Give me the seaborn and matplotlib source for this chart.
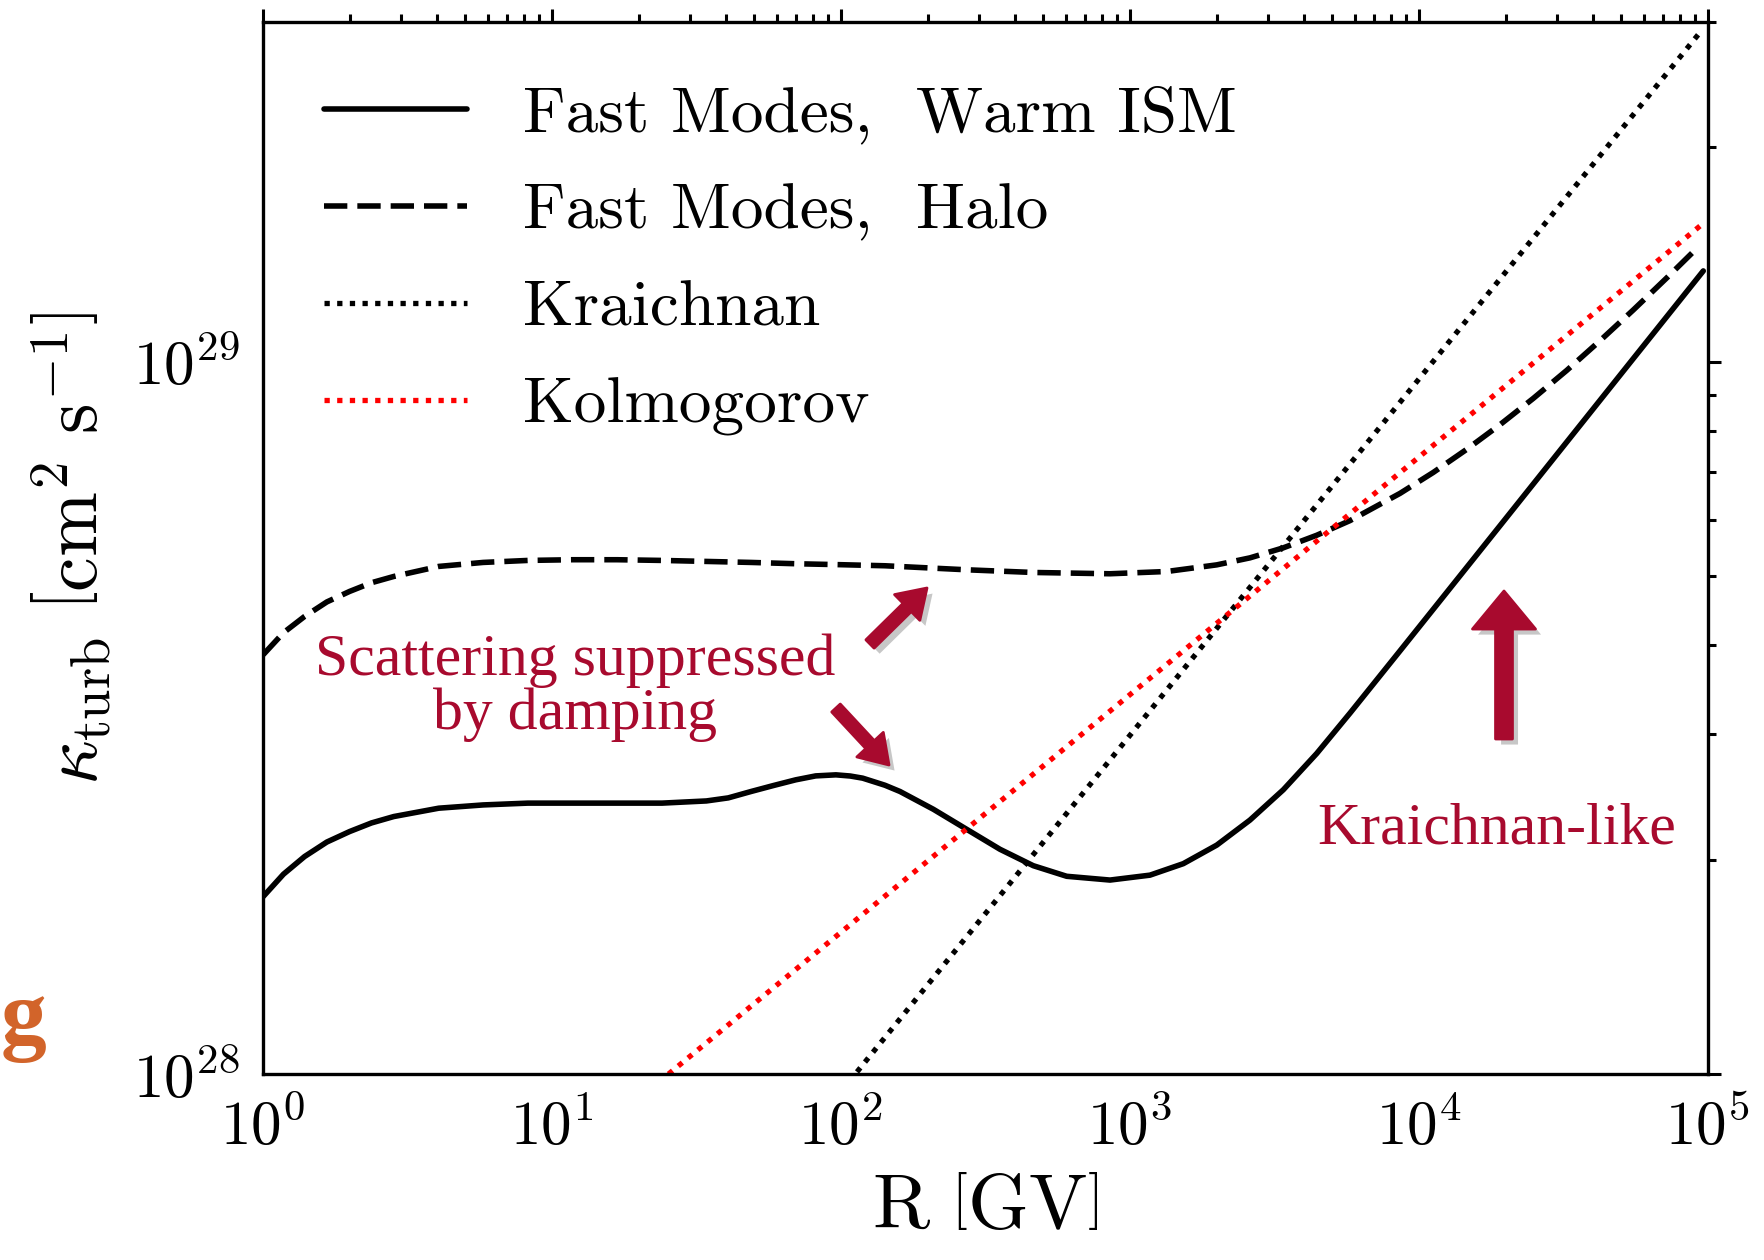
import numpy as np
import pandas as pd
import matplotlib
matplotlib.use("Agg")
import matplotlib.pyplot as plt
import matplotlib.patheffects as pe
from matplotlib.patches import FancyArrowPatch, ArrowStyle
from matplotlib.ticker import LogLocator, NullFormatter
import seaborn as sns

# Rigidity R [GV] and turbulent diffusion coefficient kappa [cm^2 s^-1]
warm_R = [1.0, 1.175, 1.39, 1.66, 1.99, 2.37, 2.83, 4.05, 5.77, 8.24, 11.75, 16.8,
          24.0, 34.2, 40.7, 48.8, 58.2, 69.7, 81.7, 96.0, 107.6, 118.8, 141.9,
          160.0, 208.6, 272.2, 354.9, 462.9, 604.0, 853.1, 1173, 1530, 1997, 2603,
          3395, 4430, 5776, 8606, 11220, 19100, 32500, 55250, 96500]
warm_k = [1.777e28, 1.910e28, 2.022e28, 2.119e28, 2.192e28, 2.254e28, 2.301e28,
          2.364e28, 2.389e28, 2.403e28, 2.403e28, 2.403e28, 2.403e28, 2.420e28,
          2.444e28, 2.495e28, 2.543e28, 2.591e28, 2.624e28, 2.633e28, 2.623e28,
          2.605e28, 2.546e28, 2.495e28, 2.356e28, 2.208e28, 2.070e28, 1.963e28,
          1.897e28, 1.874e28, 1.904e28, 1.976e28, 2.098e28, 2.275e28, 2.509e28,
          2.821e28, 3.214e28, 3.931e28, 4.497e28, 5.891e28, 7.719e28, 10.11e28,
          13.42e28]

halo_R = [1.0, 1.175, 1.39, 1.66, 1.99, 2.37, 2.83, 4.05, 5.77, 8.24, 11.76, 16.8,
          24.0, 34.2, 48.8, 69.7, 99.5, 141.9, 272.2, 462.9, 853.1, 1341, 1997,
          2603, 3395, 4430, 5776, 8606, 11220, 14650, 19100, 24900, 32500, 42370,
          55250, 72120, 91560]
halo_k = [3.883e28, 4.168e28, 4.393e28, 4.604e28, 4.763e28, 4.899e28, 4.999e28,
          5.164e28, 5.231e28, 5.265e28, 5.277e28, 5.277e28, 5.265e28, 5.248e28,
          5.231e28, 5.209e28, 5.193e28, 5.175e28, 5.108e28, 5.064e28, 5.043e28,
          5.080e28, 5.190e28, 5.309e28, 5.484e28, 5.711e28, 5.988e28, 6.539e28,
          6.997e28, 7.540e28, 8.165e28, 8.889e28, 9.730e28, 10.71e28, 11.83e28,
          13.12e28, 14.43e28]

kraichnan_R = [1.0e2, 9.5e4]
kraichnan_k = [0.946e28, 2.916e29]

kolmogorov_R = [2.0e1, 9.5e4]
kolmogorov_k = [0.926e28, 1.557e29]

labels = ["Fast Modes,  Warm ISM",
          "Fast Modes,  Halo",
          "Kraichnan",
          "Kolmogorov"]

ANNOT = "#A80A2E"

sns.set_theme(style="white")
plt.rcParams.update({
    "mathtext.fontset": "cm",
    "font.family": ["cmr10", "DejaVu Serif"],
    "axes.formatter.use_mathtext": True,
    "axes.unicode_minus": False,
    "axes.linewidth": 1.2,
    "axes.edgecolor": "black",
    "axes.labelcolor": "black",
    "text.color": "black",
    "xtick.color": "black",
    "ytick.color": "black",
})

W, H, DPI = 1764, 1260, 200
fig = plt.figure(figsize=(W / DPI, H / DPI), dpi=DPI)
ax = fig.add_axes([263.25 / W, 1 - 1074.4 / H, (1707.75 - 263.25) / W, (1074.4 - 22) / H])

frames = [
    pd.DataFrame({"R": warm_R, "k": warm_k}),
    pd.DataFrame({"R": halo_R, "k": halo_k}),
    pd.DataFrame({"R": kraichnan_R, "k": kraichnan_k}),
    pd.DataFrame({"R": kolmogorov_R, "k": kolmogorov_k}),
]
styles = [
    dict(color="black", linewidth=2.0, linestyle="-"),
    dict(color="black", linewidth=2.0, dashes=(4.2, 1.8)),
    dict(color="black", linewidth=1.9, dashes=(1.0, 1.4)),
    dict(color="red", linewidth=1.9, dashes=(1.0, 1.4)),
]
for df, lab, st in zip(frames, labels, styles):
    sns.lineplot(data=df, x="R", y="k", ax=ax, label=lab, estimator=None,
                 sort=True, solid_joinstyle="round", **st)

ax.set_xscale("log")
ax.set_yscale("log")
ax.set_xlim(1, 1e5)
ax.set_ylim(1e28, 3e29)

ax.xaxis.set_major_locator(LogLocator(base=10, numticks=10))
ax.xaxis.set_minor_locator(LogLocator(base=10, subs=np.arange(2, 10), numticks=20))
ax.xaxis.set_minor_formatter(NullFormatter())
ax.yaxis.set_major_locator(LogLocator(base=10, numticks=10))
ax.yaxis.set_minor_locator(LogLocator(base=10, subs=np.arange(2, 10), numticks=20))
ax.yaxis.set_minor_formatter(NullFormatter())

ax.tick_params(which="both", direction="out", top=True, right=True,
               labeltop=False, labelright=False, width=1.1)
ax.tick_params(which="major", length=4.6, labelsize=22, pad=4)
ax.tick_params(which="minor", length=2.8)

ax.set_xlabel(r"$\mathrm{R}\ \left[\mathrm{GV}\right]$", fontsize=28)
ax.set_ylabel(r"$\kappa_{\rm turb}\ \left[\mathrm{cm}^2\ \mathrm{s}^{-1}\right]$",
              fontsize=28)
ax.xaxis.set_label_coords(0.5, -0.095)
ax.yaxis.set_label_coords(-0.103, 0.5)

leg = ax.legend(loc="upper left", bbox_to_anchor=(0.042, 0.939), frameon=False,
                fontsize=23.5, handlelength=2.19, handletextpad=0.86,
                labelspacing=0.585, borderpad=0, borderaxespad=0)
for t in leg.get_texts():
    t.set_color("black")

# Annotations
ax.text(575 / W, 1 - 688 / H, "Scattering suppressed\nby damping",
        transform=fig.transFigure, ha="center", va="center", color=ANNOT,
        fontsize=21.5, family="Liberation Serif", linespacing=1.0)
ax.text(1497 / W, 1 - 829 / H, "Kraichnan-like", transform=fig.transFigure,
        ha="center", va="center", color=ANNOT, fontsize=21.5,
        family="Liberation Serif")

shadow = [pe.withSimplePatchShadow(offset=(2, -2), shadow_rgbFace="black", alpha=0.22)]


def block_arrow(p0, p1, tail, hw, hl):
    arr = FancyArrowPatch(
        (p0[0] / W, 1 - p0[1] / H), (p1[0] / W, 1 - p1[1] / H),
        transform=fig.transFigure,
        arrowstyle=ArrowStyle.Simple(head_length=hl, head_width=hw, tail_width=tail),
        mutation_scale=1, color=ANNOT, shrinkA=0, shrinkB=0,
        path_effects=shadow, zorder=5)
    fig.add_artist(arr)


block_arrow((870, 644), (927, 588), 4.2, 13, 10)
block_arrow((836, 708), (889, 765), 4.2, 13, 10)
block_arrow((1504, 739), (1504, 591), 6.1, 22.7, 13.7)

fig.text(0.5 / W, 1 - 1044 / H, "g", color="#D2642A", fontsize=33,
         fontweight="bold", family="Liberation Serif", ha="left", va="baseline")

fig.savefig("out.png", dpi=DPI, facecolor="white")
